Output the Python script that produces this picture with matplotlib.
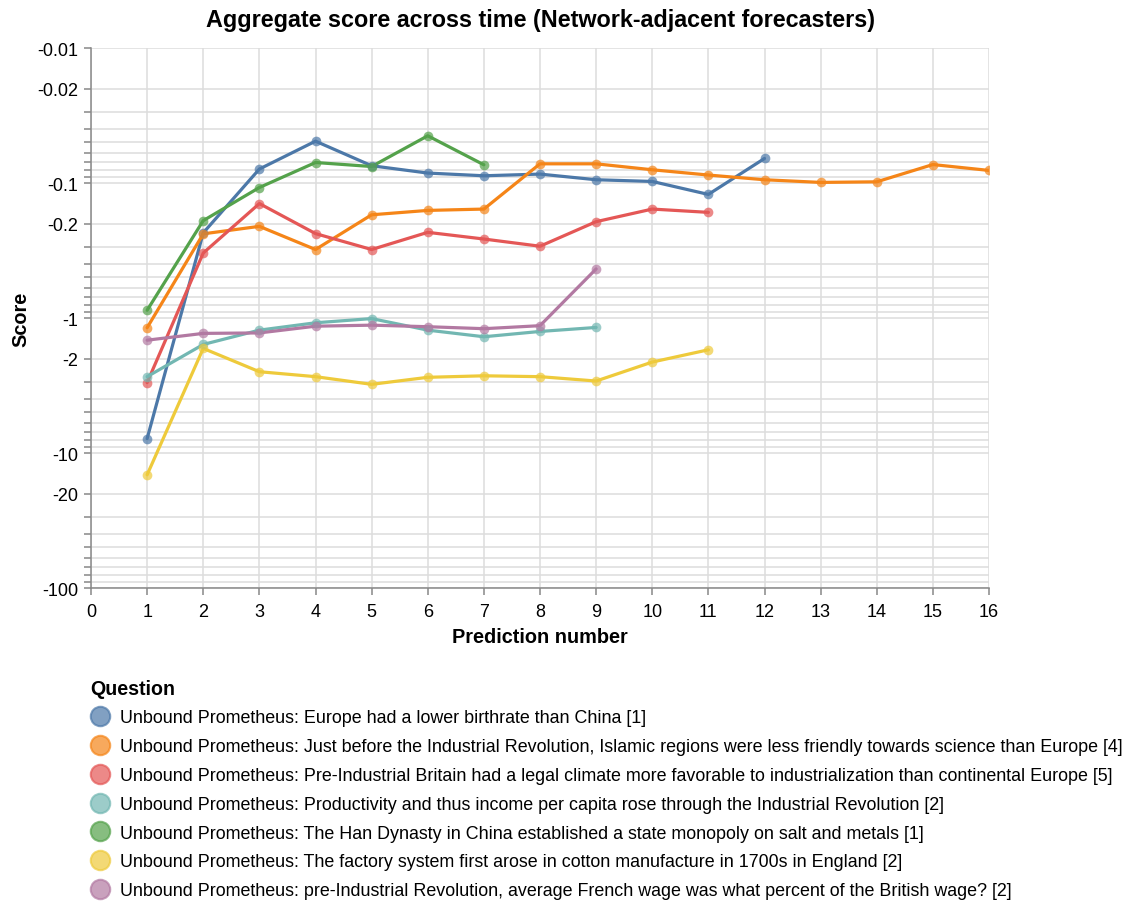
import numpy as np
import matplotlib
matplotlib.use("Agg")
import matplotlib.pyplot as plt
from matplotlib.lines import Line2D
from matplotlib.ticker import FixedLocator, NullFormatter, FuncFormatter

plt.rcParams['font.family'] = ['Liberation Sans', 'DejaVu Sans']

# --- data ---
questions = [
    "Unbound Prometheus: Europe had a lower birthrate than China [1]",
    "Unbound Prometheus: Just before the Industrial Revolution, Islamic regions were less friendly towards science than Europe [4]",
    "Unbound Prometheus: Pre-Industrial Britain had a legal climate more favorable to industrialization than continental Europe [5]",
    "Unbound Prometheus: Productivity and thus income per capita rose through the Industrial Revolution [2]",
    "Unbound Prometheus: The Han Dynasty in China established a state monopoly on salt and metals [1]",
    "Unbound Prometheus: The factory system first arose in cotton manufacture in 1700s in England [2]",
    "Unbound Prometheus: pre-Industrial Revolution, average French wage was what percent of the British wage? [2]",
]
colors = ["#4c78a8", "#f58518", "#e45756", "#72b7b2", "#54a24b", "#eeca3b", "#b279a2"]

birthrate = [-7.82, -0.234, -0.0788, -0.049, -0.0745, -0.0844, -0.0884, -0.0859,
             -0.0946, -0.0974, -0.1215, -0.0658]
islamic = [-1.18, -0.238, -0.2095, -0.311, -0.172, -0.1596, -0.156, -0.0721,
           -0.0721, -0.0798, -0.0873, -0.0946, -0.099, -0.098, -0.073, -0.0807]
britain = [-3.01, -0.33, -0.142, -0.237, -0.311, -0.232, -0.26, -0.294,
           -0.1934, -0.156, -0.165]
productivity = [-2.72, -1.57, -1.23, -1.085, -1.01, -1.23, -1.377, -1.258, -1.175]
han = [-0.876, -0.19, -0.108, -0.0705, -0.0755, -0.0447, -0.0733]
factory = [-14.5, -1.68, -2.50, -2.72, -3.10, -2.75, -2.68, -2.72, -2.93,
           -2.12, -1.72]
french_wage = [-1.46, -1.30, -1.29, -1.15, -1.13, -1.16, -1.20, -1.14, -0.433]

series = [birthrate, islamic, britain, productivity, han, factory, french_wage]

W, H = 1137, 912
fig = plt.figure(figsize=(W / 100, H / 100), dpi=100)
ax = fig.add_axes([91 / W, 1 - 589 / H, (989 - 91) / W, (589 - 49) / H])

# log scale on negative values: -0.01 at top, -100 at bottom
ax.set_yscale('function', functions=(lambda y: -np.log10(np.clip(-np.asarray(y, float), 1e-12, None)),
                                     lambda u: -10.0 ** (-np.asarray(u, float))))

for vals, c in zip(series, colors):
    x = np.arange(1, len(vals) + 1)
    ax.plot(x, vals, color=c, lw=2.3, zorder=3, solid_capstyle='round')
    ax.plot(x, vals, 'o', color=c, ms=7, alpha=0.7, mew=0, zorder=4)

ax.set_xlim(0, 16)
ax.set_ylim(-100, -0.01)

major = [-0.01, -0.02, -0.1, -0.2, -1, -2, -10, -20, -100]
allticks = [-m * 10.0 ** e for e in range(-2, 2) for m in range(1, 10)] + [-100]
minor = [t for t in allticks if not any(np.isclose(t, mj) for mj in major)]
ax.yaxis.set_major_locator(FixedLocator(major))
ax.yaxis.set_minor_locator(FixedLocator(minor))
ax.yaxis.set_major_formatter(FuncFormatter(lambda v, p: ('%g' % v)))
ax.yaxis.set_minor_formatter(NullFormatter())
ax.set_xticks(range(0, 17))

ax.grid(True, which='both', color='#dddddd', lw=1.1, zorder=0)
ax.set_axisbelow(True)
for s in ['top', 'right']:
    ax.spines[s].set_visible(False)
for s in ['left', 'bottom']:
    ax.spines[s].set_color('#888888')
    ax.spines[s].set_linewidth(1.1)
ax.tick_params(which='both', length=5, color='#888888', width=1.1,
               labelsize=13, labelcolor='black', pad=4)
ax.tick_params(axis='x', pad=6)

ax.set_xlabel("Prediction number", fontsize=14.3, fontweight='bold', labelpad=5)
ax.set_ylabel("Score", fontsize=14.3, fontweight='bold', labelpad=5)
fig.text(540 / W, 1 - 20 / H, "Aggregate score across time (Network-adjacent forecasters)",
         ha='center', va='center', fontsize=16.8, fontweight='bold')

handles = [Line2D([], [], ls='none', marker='o', ms=14, mfc=c, mec=c, alpha=0.7, mew=1.5)
           for c in colors]
leg = fig.legend(handles, questions, loc='upper left', bbox_to_anchor=(78 / W, 1 - 667 / H),
                 frameon=False, fontsize=12.9, title="Question",
                 title_fontproperties={'weight': 'bold', 'size': 14.1},
                 labelspacing=0.66, handletextpad=0.54, handlelength=1.1,
                 borderpad=0.2)
leg._legend_box.align = "left"

fig.savefig("out.png", dpi=100)
